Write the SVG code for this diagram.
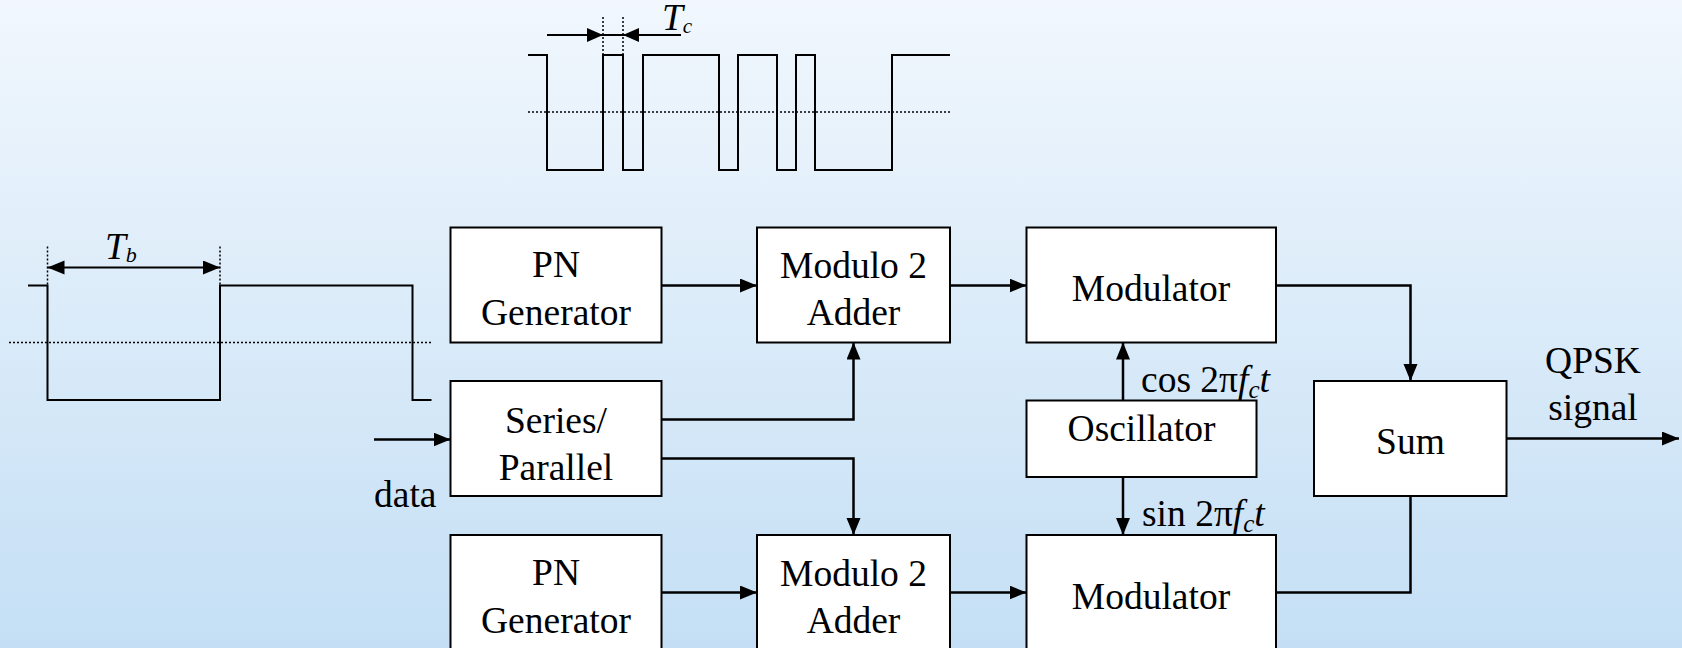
<svg xmlns="http://www.w3.org/2000/svg" width="1682" height="648" viewBox="0 0 1682 648">
  <defs>
    <linearGradient id="bg" x1="0" y1="0" x2="0" y2="1">
      <stop offset="0" stop-color="#f1f7fd"/>
      <stop offset="1" stop-color="#c4dff5"/>
    </linearGradient>
    <marker id="arrow" markerUnits="userSpaceOnUse" markerWidth="20" markerHeight="16" refX="17" refY="7" orient="auto-start-reverse">
      <path d="M0,0 L17,7 L0,14 z" fill="#000"/>
    </marker>
    <marker id="arrowSmall" markerUnits="userSpaceOnUse" markerWidth="18" markerHeight="16" refX="16" refY="7" orient="auto-start-reverse">
      <path d="M0,0 L16,7 L0,14 z" fill="#000"/>
    </marker>
    <style>
      .box { fill: #ffffff; stroke: #000; stroke-width: 2; }
      .lbl { font-family: "Liberation Serif", "Times New Roman", serif; font-size: 37.5px; fill: #000; text-anchor: middle; }
      .free { font-family: "Liberation Serif", "Times New Roman", serif; font-size: 37.5px; fill: #000; }
      .it { font-style: italic; }
      .wire { fill: none; stroke: #000; stroke-width: 2.5; }
      .wave { fill: none; stroke: #000; stroke-width: 2; }
      .dot { fill: none; stroke: #000; stroke-width: 1.5; stroke-dasharray: 2 2; }
    </style>
  </defs>

  <rect x="0" y="0" width="1682" height="648" fill="url(#bg)"/>

  <!-- chip sequence waveform with chip period -->
  <g id="chip-waveform">
    <path class="dot" d="M528,112 H950"/>
    <path class="wave" d="M528,55 H547 V170 H603 V55 H623 V170 H643 V55 H719 V170 H738 V55 H777 V170 H796 V55 H815 V170 H892 V55 H950"/>
    <path class="dot" d="M603,17 V73 M623,17 V55"/>
    <path class="wave" d="M547,35 H603" marker-end="url(#arrowSmall)"/>
    <path class="wave" d="M603,35 H623"/>
    <path class="wave" d="M681,35 H623" marker-end="url(#arrowSmall)"/>
    <text class="free it" x="662" y="30" font-size="30">T<tspan font-size="21" dy="3">c</tspan></text>
  </g>

  <!-- data bit waveform with bit period -->
  <g id="bit-waveform">
    <path class="dot" d="M9,342.5 H432"/>
    <path class="wave" d="M28,285.5 H47.5 V400 H220 V285.5 H412.5 V400 H431.5"/>
    <path class="dot" d="M47.5,246.5 V285.5 M220,246.5 V285.5"/>
    <path class="wave" d="M47.5,267.5 H220" marker-start="url(#arrow)" marker-end="url(#arrow)"/>
    <text class="free it" x="105" y="259" font-size="32">T<tspan font-size="22" dy="3">b</tspan></text>
  </g>

  <!-- connectors -->
  <g id="connectors">
    <path class="wire" d="M374,439.5 H450.5" marker-end="url(#arrow)"/>
    <path class="wire" d="M661.5,285.5 H757" marker-end="url(#arrow)"/>
    <path class="wire" d="M950,285.5 H1026.5" marker-end="url(#arrow)"/>
    <path class="wire" d="M661.5,419.5 H853.5 V342.5" marker-end="url(#arrow)"/>
    <path class="wire" d="M661.5,458.5 H853.5 V535" marker-end="url(#arrow)"/>
    <path class="wire" d="M661.5,592.5 H757" marker-end="url(#arrow)"/>
    <path class="wire" d="M950,592.5 H1026.5" marker-end="url(#arrow)"/>
    <path class="wire" d="M1123,400.5 V342.5" marker-end="url(#arrow)"/>
    <path class="wire" d="M1123,477 V535" marker-end="url(#arrow)"/>
    <path class="wire" d="M1276,285.5 H1410.5 V381" marker-end="url(#arrow)"/>
    <path class="wire" d="M1276,592.5 H1410.5 V496"/>
    <path class="wire" d="M1506.5,438.5 H1679" marker-end="url(#arrow)"/>
  </g>

  <!-- blocks -->
  <g id="pn-generator-i">
    <rect class="box" x="450.5" y="227.5" width="211" height="115"/>
    <text class="lbl" x="556" y="277">PN</text>
    <text class="lbl" x="556" y="325">Generator</text>
  </g>
  <g id="modulo2-adder-i">
    <rect class="box" x="757" y="227.5" width="193" height="115"/>
    <text class="lbl" x="853.5" y="278">Modulo 2</text>
    <text class="lbl" x="853.5" y="325">Adder</text>
  </g>
  <g id="modulator-i">
    <rect class="box" x="1026.5" y="227.5" width="249.5" height="115"/>
    <text class="lbl" x="1151" y="301">Modulator</text>
  </g>
  <g id="series-parallel">
    <rect class="box" x="450.5" y="381" width="211" height="115"/>
    <text class="lbl" x="556" y="433">Series/</text>
    <text class="lbl" x="556" y="480">Parallel</text>
  </g>
  <g id="data-label">
    <text class="free" x="374" y="506.5">data</text>
  </g>
  <g id="oscillator">
    <rect class="box" x="1026.5" y="400.5" width="230" height="76.5"/>
    <text class="lbl" x="1141.5" y="441">Oscillator</text>
  </g>
  <g id="carrier-labels">
    <text class="free" x="1141" y="391.5">cos 2π<tspan class="it">f</tspan><tspan class="it" font-size="25" dy="6">c</tspan><tspan class="it" dy="-6">t</tspan></text>
    <text class="free" x="1142" y="526">sin 2π<tspan class="it">f</tspan><tspan class="it" font-size="25" dy="6">c</tspan><tspan class="it" dy="-6">t</tspan></text>
  </g>
  <g id="sum">
    <rect class="box" x="1314" y="381" width="192.5" height="115"/>
    <text class="lbl" x="1410.5" y="454">Sum</text>
  </g>
  <g id="output-label">
    <text class="lbl" x="1593" y="373">QPSK</text>
    <text class="lbl" x="1593" y="420">signal</text>
  </g>
  <g id="pn-generator-q">
    <rect class="box" x="450.5" y="535" width="211" height="115"/>
    <text class="lbl" x="556" y="585">PN</text>
    <text class="lbl" x="556" y="633">Generator</text>
  </g>
  <g id="modulo2-adder-q">
    <rect class="box" x="757" y="535" width="193" height="115"/>
    <text class="lbl" x="853.5" y="586">Modulo 2</text>
    <text class="lbl" x="853.5" y="633">Adder</text>
  </g>
  <g id="modulator-q">
    <rect class="box" x="1026.5" y="535" width="249.5" height="115"/>
    <text class="lbl" x="1151" y="608.5">Modulator</text>
  </g>
</svg>
